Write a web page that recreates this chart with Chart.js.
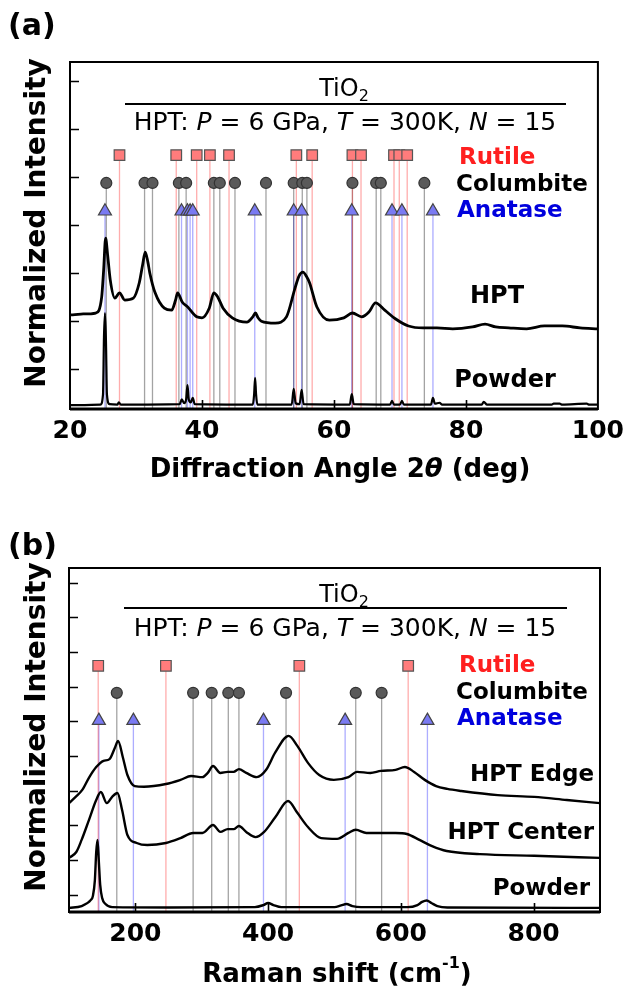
<!DOCTYPE html>
<html>
<head>
<meta charset="utf-8">
<script src="https://cdn.jsdelivr.net/npm/chart.js@4.4.1/dist/chart.umd.min.js"></script>
<style>
  html, body { margin: 0; padding: 0; background: #fff; }
  canvas { display: block; }
</style>
</head>
<body>
<canvas id="xrdChart" width="631" height="500"></canvas>
<canvas id="ramanChart" width="631" height="495"></canvas>
<script>
// ---- (a) XRD: diffraction angle 2θ (deg) vs normalized intensity ----
const xrdTicks = [20, 40, 60, 80, 100];
const xrdLevelTicks = [0.83, 1.83, 2.83, 3.83, 4.83, 5.83, 6.83];

const xrdHptAngle = [20, 20.4, 22, 23.9, 24.8, 25.1, 25.4, 25.7, 26.1, 26.8, 27.5, 28.3, 29.6, 30.5, 31.0,
  31.4, 31.8, 32.1, 32.9, 34.3, 35.4, 36.0, 36.3, 37.0, 37.8, 39.2, 40.0, 41.1, 41.8, 42.4, 43.2, 44.6,
  46.8, 47.7, 48.1, 48.5, 49.0, 51.1, 52.8, 54.1, 54.7, 55.3, 55.8, 56.3, 57.4, 59.3, 61.5, 62.8, 64.2,
  65.3, 66.3, 67.7, 69.3, 71.3, 73.5, 75.6, 78.0, 81.0, 82.9, 84.5, 86.5, 89.2, 91.9, 94.6, 97.3, 100];
const xrdHptIntensity = [1.96, 1.96, 1.98, 2.00, 2.33, 2.90, 3.56, 3.21, 2.69, 2.31, 2.42, 2.27, 2.31, 2.63, 3.00,
  3.27, 3.06, 2.83, 2.42, 2.10, 2.06, 2.27, 2.42, 2.23, 2.13, 1.92, 1.90, 2.10, 2.42, 2.33, 2.10, 1.90,
  1.81, 1.92, 2.00, 1.90, 1.83, 1.79, 1.92, 2.52, 2.77, 2.85, 2.77, 2.63, 2.13, 1.85, 1.90, 2.00, 1.92,
  2.02, 2.21, 2.06, 1.88, 1.73, 1.69, 1.69, 1.67, 1.71, 1.77, 1.71, 1.69, 1.67, 1.73, 1.73, 1.69, 1.67];

const xrdPowderAngle = [20, 24.6, 25.0, 25.15, 25.3, 25.45, 25.6, 26.0, 27.2, 27.4, 27.7, 36.6, 36.95, 37.3,
  37.6, 37.8, 38.0, 38.3, 38.6, 38.9, 47.7, 47.9, 48.05, 48.2, 48.4, 53.6, 53.9, 54.2, 54.8, 55.1, 55.4,
  62.4, 62.7, 63.0, 68.5, 68.8, 69.1, 70.0, 70.3, 70.6, 74.7, 75.0, 75.3, 76.0, 76.4, 82.4, 82.7, 83.2,
  93.0, 93.3, 94.2, 94.6, 98.3, 98.7, 100];
const xrdPowderIntensity = [0.08, 0.09, 0.30, 1.50, 2.00, 1.40, 0.30, 0.10, 0.09, 0.14, 0.09, 0.10, 0.20, 0.12,
  0.20, 0.50, 0.20, 0.14, 0.23, 0.10, 0.09, 0.30, 0.65, 0.30, 0.09, 0.09, 0.42, 0.12, 0.10, 0.40, 0.10,
  0.09, 0.31, 0.10, 0.09, 0.17, 0.09, 0.09, 0.17, 0.09, 0.09, 0.23, 0.11, 0.13, 0.09, 0.09, 0.15, 0.09,
  0.09, 0.11, 0.11, 0.09, 0.11, 0.09, 0.09];

// reference peak positions (deg) and marker row heights [rutile, columbite, anatase]
const xrdRutile = [27.5, 36.1, 39.2, 41.2, 44.1, 54.3, 56.7, 62.8, 64.1, 69.1, 69.9, 71.1];
const xrdColumbite = [25.5, 31.3, 32.5, 36.5, 37.6, 41.8, 42.7, 45.0, 49.7, 53.9, 55.2, 55.9, 62.8, 66.4, 67.1, 73.7];
const xrdAnatase = [25.3, 36.9, 37.8, 38.2, 38.6, 48.0, 53.9, 55.1, 62.7, 68.8, 70.3, 75.0];
const xrdMarkerLevel = [5.29, 4.71, 4.12];

// ---- (b) Raman: shift (cm-1) vs normalized intensity ----
const ramanTicks = [200, 400, 600, 800];
const ramanLevelTicks = [0.5, 1.5, 2.5, 3.5, 4.5, 5.5, 6.5, 7.5, 8.5, 9.5];

const ramanEdgeShift = [100, 110, 120, 130, 141, 152, 161, 169, 174, 181, 188, 199, 213, 246, 268, 284, 301,
  309, 317, 328, 339, 348, 356, 367, 383, 397, 411, 431, 444, 460, 477, 499, 521, 534, 554, 570, 592, 606,
  620, 636, 653, 670, 691, 746, 801, 850, 900];
const ramanEdge = [3.14, 3.32, 3.52, 3.87, 4.18, 4.36, 4.41, 4.73, 4.93, 4.47, 3.95, 3.63, 3.61, 3.69, 3.81, 3.92,
  3.89, 4.01, 4.21, 4.01, 4.04, 4.04, 4.12, 4.01, 3.89, 4.10, 4.61, 5.08, 4.79, 4.30, 3.95, 3.81, 3.89,
  4.04, 4.01, 4.07, 4.10, 4.18, 4.04, 3.81, 3.63, 3.55, 3.49, 3.37, 3.32, 3.23, 3.14];

const ramanCenterShift = [100, 111, 119, 130, 141, 148, 157, 165, 173, 180, 188, 202, 218, 246, 268, 287, 301,
  317, 328, 339, 348, 356, 367, 381, 394, 411, 430, 444, 460, 480, 504, 521, 532, 548, 570, 592, 609, 628,
  647, 669, 719, 801, 900];
const ramanCenter = [1.56, 1.73, 2.08, 2.65, 3.23, 3.46, 3.14, 3.32, 3.43, 2.94, 2.22, 1.99, 1.93, 1.99, 2.13,
  2.28, 2.28, 2.51, 2.31, 2.39, 2.39, 2.48, 2.31, 2.16, 2.31, 2.74, 3.20, 2.86, 2.45, 2.13, 2.11, 2.28,
  2.37, 2.28, 2.28, 2.28, 2.25, 2.08, 1.90, 1.76, 1.67, 1.62, 1.56];

const ramanPowderShift = [100, 119, 133, 136, 139, 141, 143, 145, 147, 150, 155, 165, 250, 380, 393, 400, 408,
  420, 500, 510, 518, 527, 540, 610, 625, 632, 639, 646, 655, 670, 900];
const ramanPowder = [0.12, 0.17, 0.35, 0.46, 0.92, 1.73, 2.08, 1.44, 0.78, 0.40, 0.23, 0.14, 0.13, 0.14, 0.20,
  0.26, 0.20, 0.14, 0.14, 0.19, 0.23, 0.17, 0.14, 0.14, 0.20, 0.29, 0.33, 0.26, 0.17, 0.13, 0.12];

const ramanRutile = [144, 246, 447, 611];
const ramanColumbite = [172, 287, 315, 340, 356, 427, 532, 571];
const ramanAnatase = [145, 197, 393, 516, 640];
const ramanMarkerLevel = [7.10, 6.32, 5.52];

// ---- helpers ----
const FAMILY = '"DejaVu Sans", sans-serif';
const bold = (s) => `bold ${s}px ${FAMILY}`;
const reg = (s) => `${s}px ${FAMILY}`;
const ital = (s) => `italic ${s}px ${FAMILY}`;

const PHASES = [
  { name: 'Rutile', style: 'rect', radius: 7.5, fill: '#ff7c7c', edge: '#555', stem: 'rgba(255, 40, 40, 0.38)' },
  { name: 'Columbite', style: 'circle', radius: 5.5, fill: '#5a5a5a', edge: '#333', stem: 'rgba(0, 0, 0, 0.36)' },
  { name: 'Anatase', style: 'triangle', radius: 7.5, fill: '#7a7af2', edge: '#444', stem: 'rgba(40, 40, 255, 0.38)' }
];

function pairs(xs, ys) {
  return xs.map((x, i) => ({ x, y: ys[i] }));
}

function curve(xs, ys, width) {
  return {
    type: 'line', data: pairs(xs, ys), borderColor: '#000', borderWidth: width,
    pointRadius: 0, cubicInterpolationMode: 'monotone', order: 2
  };
}

// vertical line from the marker row down to the bottom, one segment per peak
function stemSet(positions, level, phase) {
  const pts = [];
  positions.forEach(p => { pts.push({ x: p, y: level }, { x: p, y: 0 }, { x: p, y: null }); });
  return {
    type: 'line', data: pts, borderColor: phase.stem, borderWidth: 1.3,
    pointRadius: 0, spanGaps: false, order: 3
  };
}

function markerSet(positions, level, phase) {
  return {
    type: 'scatter', data: positions.map(p => ({ x: p, y: level })),
    pointStyle: phase.style, pointRadius: phase.radius, backgroundColor: phase.fill,
    borderColor: phase.edge, borderWidth: 1.2, order: 1
  };
}

function phaseSets(groups, levels) {
  const sets = [];
  groups.forEach((g, i) => {
    sets.push(stemSet(g, levels[i], PHASES[i]));
    sets.push(markerSet(g, levels[i], PHASES[i]));
  });
  return sets;
}

// frame with inward ticks, drawn from the scale positions
const frameTicks = {
  id: 'frameTicks',
  afterDatasetsDraw(chart) {
    const { ctx, chartArea: a, scales: { x, y } } = chart;
    ctx.save();
    ctx.strokeStyle = '#000';
    ctx.lineWidth = 1.6;
    ctx.beginPath();
    x.ticks.forEach(t => {
      const px = Math.round(x.getPixelForValue(t.value)) + 0.5;
      if (px <= a.left + 2 || px >= a.right - 2) return;
      ctx.moveTo(px, a.bottom);
      ctx.lineTo(px, a.bottom - 9);
    });
    y.ticks.forEach(t => {
      const py = Math.round(y.getPixelForValue(t.value)) + 0.5;
      ctx.moveTo(a.left, py);
      ctx.lineTo(a.left + 9, py);
    });
    ctx.stroke();
    ctx.lineWidth = 2;
    ctx.strokeRect(a.left, a.top, a.right - a.left, a.bottom - a.top);
    ctx.lineWidth = 3;
    ctx.beginPath();
    ctx.moveTo(a.left, a.bottom);
    ctx.lineTo(a.right, a.bottom);
    ctx.stroke();
    ctx.restore();
  }
};

// rich text (italic, sub/superscript) annotations
const notes = {
  id: 'notes',
  afterDraw(chart, args, opts) {
    const ctx = chart.ctx;
    ctx.save();
    ctx.textBaseline = 'middle';
    ctx.textAlign = 'left';
    (opts.rules || []).forEach(r => {
      ctx.strokeStyle = '#000';
      ctx.lineWidth = 2;
      ctx.beginPath();
      ctx.moveTo(r.x1, r.y);
      ctx.lineTo(r.x2, r.y);
      ctx.stroke();
    });
    (opts.items || []).forEach(it => {
      let w = 0;
      it.parts.forEach(p => { ctx.font = p[1]; w += ctx.measureText(p[0]).width; });
      ctx.save();
      ctx.translate(it.x, it.y);
      if (it.rotate) ctx.rotate(it.rotate);
      let cx = it.align === 'center' ? -w / 2 : it.align === 'right' ? -w : 0;
      ctx.fillStyle = it.color || '#000';
      it.parts.forEach(p => {
        ctx.font = p[1];
        ctx.fillText(p[0], cx, p[2] || 0);
        cx += ctx.measureText(p[0]).width;
      });
      ctx.restore();
    });
    ctx.restore();
  }
};

function headerItems(yTop) {
  return [
    { parts: [['TiO', reg(24)], ['2', reg(16), 7]], x: 344, y: yTop, align: 'center' },
    { parts: [['HPT: ', reg(25)], ['P', ital(25)], [' = 6 GPa, ', reg(25)], ['T', ital(25)],
      [' = 300K, ', reg(25)], ['N', ital(25)], [' = 15', reg(25)]], x: 345, y: yTop + 33, align: 'center' }
  ];
}

function legendItems(yTop) {
  return [
    { parts: [['Rutile', bold(23)]], x: 459, y: yTop, align: 'left', color: '#ff1f1f' },
    { parts: [['Columbite', bold(23)]], x: 456, y: yTop + 27, align: 'left', color: '#000' },
    { parts: [['Anatase', bold(23)]], x: 457, y: yTop + 53, align: 'left', color: '#0000dd' }
  ];
}

function yTitle(yMid) {
  return { parts: [['Normalized Intensity', bold(28)]], x: 38, y: yMid, align: 'center', rotate: -Math.PI / 2 };
}

function makeOptions(cfg) {
  return {
    responsive: false,
    animation: false,
    events: [],
    layout: { padding: { top: cfg.top, right: cfg.right, left: 0, bottom: 0 } },
    plugins: {
      legend: { display: false },
      tooltip: { enabled: false },
      notes: { items: cfg.items, rules: cfg.rules }
    },
    scales: {
      x: {
        type: 'linear', min: cfg.xMin, max: cfg.xMax,
        grid: { display: false, drawTicks: false }, border: { display: false },
        afterBuildTicks: (s) => { s.ticks = cfg.xTicks.map(v => ({ value: v })); },
        afterFit: (s) => { s.height = cfg.axisHeight; },
        ticks: { color: '#000', padding: 7, maxRotation: 0, font: { family: FAMILY, size: 25, weight: 'bold' } }
      },
      y: {
        type: 'linear', min: 0, max: cfg.yMax,
        grid: { display: false, drawTicks: false }, border: { display: false },
        afterBuildTicks: (s) => { s.ticks = cfg.yTicks.map(v => ({ value: v })); },
        afterFit: (s) => { s.width = cfg.axisWidth; },
        ticks: { display: false }
      }
    }
  };
}

// ---- (a) XRD ----
new Chart(document.getElementById('xrdChart'), {
  type: 'line',
  data: {
    datasets: [
      curve(xrdHptAngle, xrdHptIntensity, 2.8),
      curve(xrdPowderAngle, xrdPowderIntensity, 2.2),
      ...phaseSets([xrdRutile, xrdColumbite, xrdAnatase], xrdMarkerLevel)
    ]
  },
  options: makeOptions({
    top: 62, right: 24, axisWidth: 70, axisHeight: 91,
    xMin: 20, xMax: 100, xTicks: xrdTicks, yMax: 7.23, yTicks: xrdLevelTicks,
    rules: [{ x1: 125, x2: 566, y: 104 }],
    items: [
      { parts: [['(a)', bold(30)]], x: 8, y: 27, align: 'left' },
      yTitle(223),
      ...headerItems(90),
      ...legendItems(158),
      { parts: [['HPT', bold(24)]], x: 497, y: 297, align: 'center' },
      { parts: [['Powder', bold(24)]], x: 505, y: 381, align: 'center' },
      { parts: [['Diffraction Angle 2', bold(26)], ['θ', 'italic ' + bold(26)], [' (deg)', bold(26)]],
        x: 340, y: 470, align: 'center' }
    ]
  }),
  plugins: [frameTicks, notes]
});

// ---- (b) Raman ----
new Chart(document.getElementById('ramanChart'), {
  type: 'line',
  data: {
    datasets: [
      curve(ramanEdgeShift, ramanEdge, 2.4),
      curve(ramanCenterShift, ramanCenter, 2.4),
      curve(ramanPowderShift, ramanPowder, 2.4),
      ...phaseSets([ramanRutile, ramanColumbite, ramanAnatase], ramanMarkerLevel)
    ]
  },
  options: makeOptions({
    top: 68, right: 31, axisWidth: 69, axisHeight: 83,
    xMin: 100, xMax: 900, xTicks: ramanTicks, yMax: 9.92, yTicks: ramanLevelTicks,
    rules: [{ x1: 124, x2: 567, y: 108 }],
    items: [
      { parts: [['(b)', bold(30)]], x: 8, y: 47, align: 'left' },
      yTitle(227),
      ...headerItems(96),
      ...legendItems(166),
      { parts: [['HPT Edge', bold(23)]], x: 594, y: 275, align: 'right' },
      { parts: [['HPT Center', bold(23)]], x: 594, y: 333, align: 'right' },
      { parts: [['Powder', bold(23)]], x: 590, y: 389, align: 'right' },
      { parts: [['Raman shift (cm', bold(26)], ['-1', bold(16), -11], [')', bold(26)]],
        x: 337, y: 475, align: 'center' }
    ]
  }),
  plugins: [frameTicks, notes]
});
</script>
</body>
</html>
